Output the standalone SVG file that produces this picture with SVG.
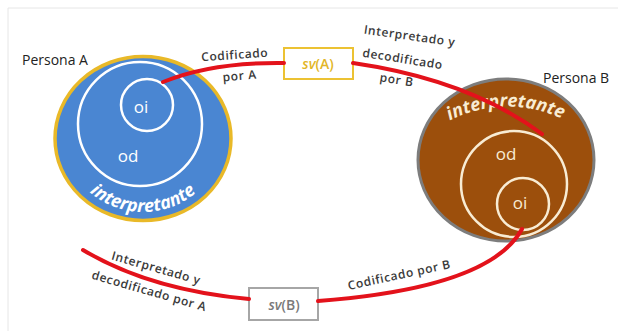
<svg xmlns="http://www.w3.org/2000/svg" width="618" height="331" viewBox="0 0 618 331">
<style>
.lbl{font-family:"Open Sans","Liberation Sans",sans-serif;font-size:12px;font-weight:600;fill:#3a3a3a;letter-spacing:0.6px;text-anchor:middle}
.persona{font-family:"Open Sans","Liberation Sans",sans-serif;font-size:14px;fill:#222}
.conn{fill:none;stroke:#e3121b;stroke-width:4;stroke-linecap:round}
.ring{fill:none;stroke-width:2.5}
.inner{font-family:"Open Sans","Liberation Sans",sans-serif;font-size:17px;text-anchor:middle}
.interp{font-family:"Open Sans","Liberation Sans",sans-serif;font-size:18px;font-weight:bold;font-style:italic;text-anchor:middle}
.sv{font-family:"Open Sans","Liberation Sans",sans-serif;font-size:14px;font-weight:600;text-anchor:middle}
</style>
<defs>
<path id="arcA" d="M83,186 A82,82 0 0,0 203,186"/>
<path id="arcB" d="M440,126 A128,128 0 0,1 572,124"/>
</defs>
<rect width="618" height="331" fill="#ffffff"/>
<path d="M8,331 L8,8 L618,8" fill="none" stroke="#e6e6e6" stroke-width="1"/>

<g id="personaA">
<ellipse cx="143" cy="138.5" rx="88" ry="82" fill="#4a86d2" stroke="#e9b928" stroke-width="3.5"/>
<circle cx="140" cy="124" r="62" class="ring" stroke="#ffffff"/>
<circle cx="147" cy="105" r="26" class="ring" stroke="#ffffff"/>
<text x="141" y="113" class="inner" fill="#ffffff">oi</text>
<text x="128" y="162" class="inner" fill="#ffffff" font-size="18">od</text>
<text class="interp" fill="#ffffff"><textPath href="#arcA" startOffset="50%">interpretante</textPath></text>
<text x="22" y="65" class="persona">Persona A</text>
</g>

<g id="personaB">
<ellipse cx="506" cy="160" rx="88" ry="81" fill="#9c4f0c" stroke="#7d7d7d" stroke-width="3"/>
<circle cx="514" cy="184" r="53" class="ring" stroke="#f8ecd4"/>
<circle cx="523" cy="204" r="26" class="ring" stroke="#f8ecd4"/>
<text x="506" y="160" class="inner" fill="#f8ecd4" font-size="18">od</text>
<text x="520" y="209" class="inner" fill="#f8ecd4">oi</text>
<text class="interp" fill="#f8ecd4"><textPath href="#arcB" startOffset="50%">interpretante</textPath></text>
<text x="543" y="83" class="persona">Persona B</text>
</g>

<g id="svA">
<rect x="284" y="48" width="69" height="31" fill="#ffffff" stroke="#ecc233" stroke-width="2"/>
<text x="318" y="69" class="sv" fill="#e2b628"><tspan font-style="italic">sv</tspan>(A)</text>
</g>

<g id="svB">
<rect x="249" y="288" width="69" height="32" fill="#ffffff" stroke="#a6a6a6" stroke-width="2"/>
<text x="284" y="310" class="sv" fill="#7a7a7a" font-weight="normal"><tspan font-style="italic">sv</tspan>(B)</text>
</g>

<g id="connectors">
<path class="conn" d="M163,82 Q212,62 284,63"/>
<path class="conn" d="M353,63 Q470,80 542,134"/>
<path class="conn" d="M522,229 Q490,288 318,301"/>
<path class="conn" d="M249,299 Q150,290 83,250"/>
</g>

<g id="labels">
<text class="lbl" transform="translate(235,59) rotate(-4)">Codificado</text>
<text class="lbl" transform="translate(240,80) rotate(-5)">por A</text>
<text class="lbl" transform="translate(409,40) rotate(8)">Interpretado y</text>
<text class="lbl" transform="translate(402,63) rotate(9)">decodificado</text>
<text class="lbl" transform="translate(396,84) rotate(9)">por B</text>
<text class="lbl" transform="translate(155,272) rotate(16)">Interpretado y</text>
<text class="lbl" transform="translate(148,295) rotate(16)">decodificado por A</text>
<text class="lbl" transform="translate(400,279) rotate(-12)">Codificado por B</text>
</g>
</svg>
